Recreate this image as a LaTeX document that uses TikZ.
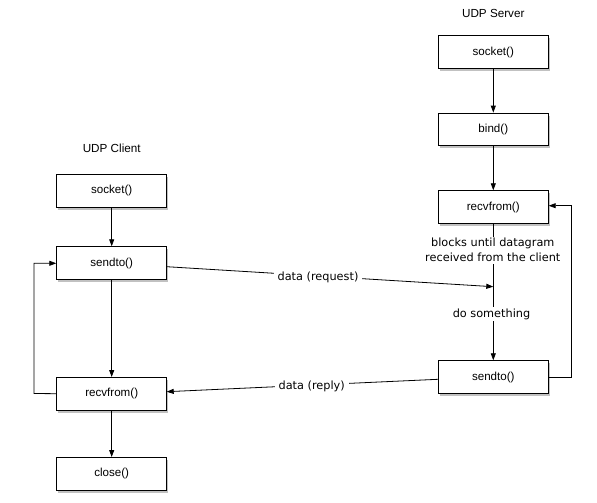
\documentclass[tikz,border=0pt]{standalone}
\usepackage{fontspec}
\setmainfont{Liberation Sans}
\newfontfamily\lblfont{DejaVu Sans}
\usetikzlibrary{arrows.meta,shadows}
\begin{document}
\begin{tikzpicture}[x=1pt,y=-1pt,
  fnbox/.style={draw=black,line width=0.8pt,fill=white,minimum width=110pt,minimum height=32.6pt,inner sep=0pt,
    font=\fontsize{11.6}{13}\selectfont,
    drop shadow={shadow xshift=1.6pt,shadow yshift=-2.6pt,opacity=0.35,fill=black!70}},
  title/.style={font=\fontsize{11.7}{13}\selectfont},
  lbl/.style={font=\lblfont\fontsize{11.3}{15}\selectfont,fill=white,inner xsep=4pt,inner ysep=1.5pt,align=center},
  conn/.style={line width=0.8pt,draw=black},
  arr/.style={conn,-{Triangle[length=7pt,width=5pt]}}]
\useasboundingbox (0,0) rectangle (597,503);
% titles
\node[title] (tserver) at (493.3,13) {UDP Server};
\node[title] (tclient) at (111.7,148) {UDP Client};
% server boxes
\node[fnbox] (ssock) at (493.3,52) {socket()};
\node[fnbox] (sbind) at (493.3,129.3) {bind()};
\node[fnbox] (srecv) at (493.3,207) {recvfrom()};
\node[fnbox] (ssend) at (493.3,377) {sendto()};
% client boxes
\node[fnbox] (csock) at (111.7,190.8) {socket()};
\node[fnbox] (csend) at (111.7,263) {sendto()};
\node[fnbox] (crecv) at (111.7,393.7) {recvfrom()};
\node[fnbox] (cclose) at (111.7,473.7) {close()};
% server connectors
\draw[arr] (ssock) -- (sbind);
\draw[arr] (sbind) -- (srecv);
\draw[arr] (srecv) -- (ssend);
\coordinate (sright) at (571,377);
\coordinate (sright2) at (571,205.7);
\draw[arr] (ssend.east) -- (sright) -- (sright2) -- (srecv.east |- sright2);
% client connectors
\draw[arr] (csock) -- (csend);
\draw[arr] (csend) -- (crecv);
\draw[arr] (crecv) -- (cclose);
\coordinate (cleft) at (34,393.5);
\coordinate (cleft2) at (34,263.3);
\draw[arr] (crecv.west) -- (cleft) -- (cleft2) -- (csend.west |- cleft2);
% messages
\coordinate (reqend) at (493.3,286.7);
\coordinate (reqstart) at (166.7,266.7);
\draw[arr] (reqstart) -- (reqend);
\coordinate (repstart) at (438,379.3);
\coordinate (repend) at (166.7,391.7);
\draw[arr] (repstart) -- (repend);
% labels
\node[lbl] (lreq) at (318,277) {data (request)};
\node[lbl] (lrep) at (311.7,386) {data (reply)};
\node[lbl] (lblock) at (492.8,250.2) {blocks until datagram\\received from the client};
\node[lbl] (ldo) at (491.5,314) {do something};
\end{tikzpicture}
\end{document}
